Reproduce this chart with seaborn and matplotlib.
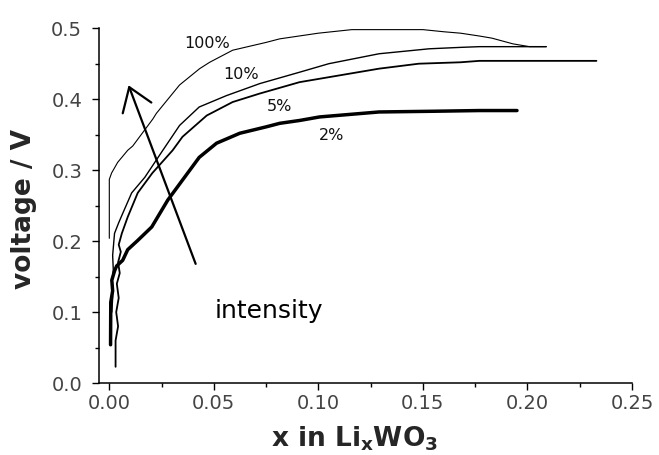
import numpy as np
import pandas as pd
import matplotlib
matplotlib.use("Agg")
import matplotlib.pyplot as plt
import seaborn as sns
from matplotlib.ticker import MultipleLocator

# curves (x in LixWO3, voltage / V)
x_100 = [0.0, 0.0, 0.0011, 0.004, 0.0088, 0.0112, 0.0208, 0.0225, 0.0336, 0.0432, 0.048,
         0.059, 0.075, 0.0815, 0.1, 0.116, 0.15, 0.16, 0.168, 0.177, 0.183, 0.193, 0.201, 0.209]
y_100 = [0.204, 0.287, 0.296, 0.311, 0.328, 0.334, 0.372, 0.380, 0.420, 0.443, 0.452,
         0.469, 0.480, 0.485, 0.493, 0.498, 0.498, 0.495, 0.493, 0.489, 0.486, 0.478, 0.474, 0.474]

x_10 = [0.0012, 0.0016, 0.0013, 0.0019, 0.0016, 0.0025, 0.0045, 0.0064, 0.0107, 0.017, 0.0256,
        0.0336, 0.043, 0.056, 0.072, 0.091, 0.105, 0.129, 0.153, 0.168, 0.177, 0.195, 0.209]
y_10 = [0.10, 0.12, 0.14, 0.16, 0.18, 0.211, 0.226, 0.239, 0.268, 0.29, 0.328,
        0.363, 0.389, 0.405, 0.422, 0.438, 0.450, 0.464, 0.471, 0.473, 0.474, 0.474, 0.474]

x_5 = [0.003, 0.003, 0.0042, 0.0033, 0.0045, 0.0036, 0.005, 0.0042, 0.0055, 0.0045, 0.006,
       0.0088, 0.0136, 0.0206, 0.0303, 0.035, 0.0466, 0.059, 0.072, 0.091, 0.105, 0.129,
       0.148, 0.168, 0.177, 0.212, 0.233]
y_5 = [0.023, 0.06, 0.08, 0.10, 0.12, 0.14, 0.155, 0.17, 0.185, 0.195, 0.211,
       0.234, 0.268, 0.296, 0.328, 0.347, 0.377, 0.396, 0.408, 0.424, 0.431, 0.443,
       0.450, 0.452, 0.454, 0.454, 0.454]

x_2 = [0.0006, 0.0007, 0.0016, 0.0012, 0.0025, 0.0035, 0.0064, 0.0088, 0.0136, 0.0203, 0.028,
       0.036, 0.043, 0.0513, 0.0624, 0.075, 0.0815, 0.091, 0.1006, 0.129, 0.155, 0.177, 0.195]
y_2 = [0.054, 0.114, 0.13, 0.145, 0.158, 0.165, 0.173, 0.188, 0.201, 0.22, 0.258,
       0.29, 0.318, 0.338, 0.352, 0.361, 0.366, 0.370, 0.375, 0.382, 0.383, 0.384, 0.384]

labels = ["100%", "10%", "5%", "2%"]
label_x = [0.0467, 0.0629, 0.0815, 0.1065]
label_y = [0.479, 0.435, 0.390, 0.349]

sns.set_style("ticks")
plt.rcParams['font.family'] = ['DejaVu Sans']

fig = plt.figure(figsize=(6.59, 4.55), dpi=100)
ax = fig.add_axes([0.150, 0.158, 0.809, 0.780])

curves = [(x_100, y_100, 0.8), (x_10, y_10, 1.0), (x_5, y_5, 1.3), (x_2, y_2, 2.5)]
for xs, ys, lw in curves:
    sns.lineplot(x=xs, y=ys, sort=False, estimator=None, color='black', lw=lw, ax=ax)

for t, tx, ty in zip(labels, label_x, label_y):
    ax.text(tx, ty, t, ha='center', va='center', fontsize=11.5, color='#111111')

# intensity arrow
ax.annotate("", xy=(0.0092, 0.4196), xytext=(0.0413, 0.168),
            arrowprops=dict(arrowstyle="->,head_length=0.8,head_width=0.55",
                            mutation_scale=20, lw=1.6, color='black',
                            shrinkA=0, shrinkB=0))
ax.text(0.0504, 0.092, "intensity", fontsize=18, ha='left', va='baseline', color='black')

ax.set_xlim(-0.005, 0.25)
ax.set_ylim(0.0, 0.5)
ax.xaxis.set_minor_locator(MultipleLocator(0.025))
ax.yaxis.set_minor_locator(MultipleLocator(0.05))
ax.set_xticks([0.0, 0.05, 0.10, 0.15, 0.20, 0.25])
ax.set_xticklabels(["0.00", "0.05", "0.10", "0.15", "0.20", "0.25"])
ax.set_yticks([0.0, 0.1, 0.2, 0.3, 0.4, 0.5])
ax.set_yticklabels(["0.0", "0.1", "0.2", "0.3", "0.4", "0.5"])

ax.tick_params(axis='both', which='major', direction='out', length=5, width=1,
               labelsize=14, labelcolor='#444444', color='black')
ax.tick_params(axis='both', which='minor', direction='out', length=3, width=1, color='black')
ax.tick_params(axis='y', which='major', pad=7)
ax.tick_params(axis='x', which='major', pad=3)

sns.despine(ax=ax)
for s in ['left', 'bottom']:
    ax.spines[s].set_linewidth(1.1)
    ax.spines[s].set_color('black')

ax.set_xlabel(r"x in Li$_\mathregular{x}$WO$_\mathregular{3}$", fontsize=19, fontweight='bold')
ax.xaxis.set_label_coords(0.48, -0.118)
ax.set_ylabel("voltage / V", fontsize=19, fontweight='bold')
ax.yaxis.set_label_coords(-0.116, 0.49)

fig.savefig("out.png", dpi=100)
